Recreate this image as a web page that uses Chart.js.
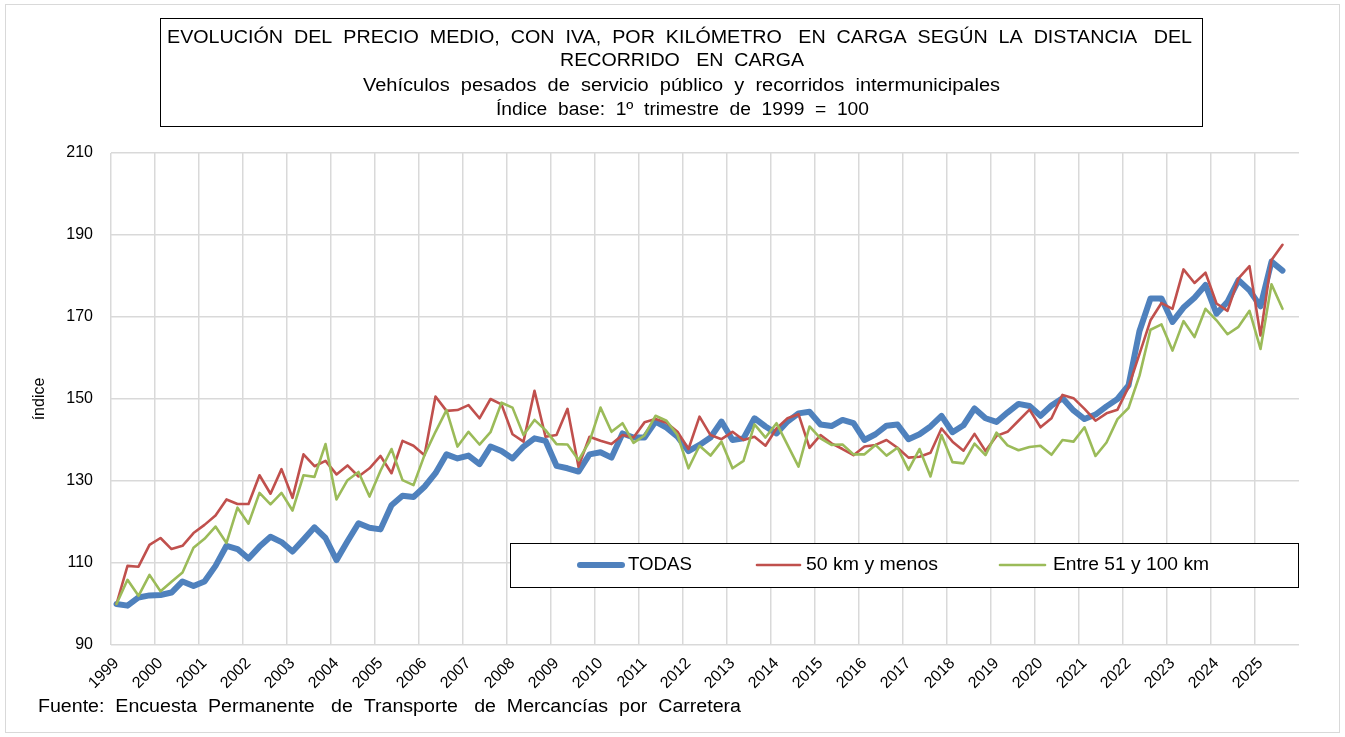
<!DOCTYPE html>
<html>
<head>
<meta charset="utf-8">
<script src="https://cdn.jsdelivr.net/npm/chart.js@4.4.0/dist/chart.umd.min.js"></script>
<style>
  html, body { margin: 0; padding: 0; background: #ffffff; }
  #wrap { width: 1345px; height: 737px; position: relative; }
</style>
</head>
<body>
<div id="wrap"><canvas id="c" width="1345" height="737"></canvas></div>
<script>
// ---- Data (quarterly index, base 1999 T1 = 100) ----
const years = [1999,2000,2001,2002,2003,2004,2005,2006,2007,2008,2009,2010,2011,2012,
               2013,2014,2015,2016,2017,2018,2019,2020,2021,2022,2023,2024,2025];
const quarterNames = ['T1','T2','T3','T4'];
const yTicks = [90,110,130,150,170,190,210];

const todas = [100,99.6,101.6,102.1,102.2,102.8,105.5,104.4,105.5,109.3,114.2,113.4,111.1,114.0,116.4,115.1,
  112.8,115.7,118.7,116.1,110.7,115.3,119.7,118.6,118.2,124.1,126.4,126.1,128.6,131.9,136.5,135.5,
  136.2,134.1,138.4,137.3,135.5,138.4,140.4,139.8,133.7,133.1,132.3,136.5,137.0,135.7,141.6,140.6,
  140.6,144.5,143.0,140.8,137.3,138.8,140.6,144.5,140.0,140.4,145.3,143.3,141.6,144.5,146.5,146.9,
  143.8,143.4,144.9,144.1,140.0,141.4,143.5,143.8,140.2,141.4,143.3,145.9,141.9,143.6,147.7,145.3,
  144.4,146.7,148.8,148.3,145.9,148.4,150.2,147.2,145.1,146.2,148.2,150.0,153.3,166.6,174.5,174.5,
  168.8,172.3,174.7,177.8,170.8,173.7,179.0,176.5,172.6,183.5,181.3];

const menos50 = [100,109.3,109.1,114.4,116.1,113.4,114.2,117.3,119.3,121.6,125.5,124.4,124.4,131.4,126.9,132.9,
  125.9,136.5,133.6,134.9,131.6,133.8,131.1,133.1,136.1,131.9,139.8,138.6,136.3,150.6,147.1,147.3,
  148.5,145.3,150.0,148.7,141.4,139.6,152.0,140.8,141.2,147.6,133.5,140.8,139.8,139.0,141.2,140.6,
  144.3,145.1,144.2,142.0,137.8,145.7,141.2,140.2,142.0,140.0,140.8,138.6,142.8,145.3,146.3,138.1,
  141.2,139.2,137.8,136.3,138.4,138.8,140.0,138.1,135.7,135.9,136.9,142.8,139.6,137.4,141.5,137.3,
  141.0,142.0,144.7,147.4,143.1,145.3,151.0,150.2,147.6,144.7,146.5,147.4,152.9,161.0,169.2,173.4,
  172.0,181.6,178.3,180.8,173.3,171.5,179.4,182.4,165.5,183.9,187.6];

const entre51y100 = [100,105.9,102.0,107.1,103.1,105.4,107.7,113.7,115.9,118.9,114.9,123.5,119.6,127.1,124.3,127.1,
  122.8,131.4,131.0,139.0,125.5,130.2,132.2,126.2,132.5,137.8,130.2,129.0,136.3,142.0,147.3,138.4,
  142.0,138.9,141.9,149.1,147.9,141.2,144.9,142.4,139.0,138.9,135.1,139.6,147.9,142.0,144.1,139.3,
  141.1,145.9,144.7,141.2,133.1,138.6,136.2,139.6,133.1,134.9,143.8,140.6,144.1,138.8,133.5,143.3,
  140.4,138.8,138.9,136.5,136.5,138.8,136.2,138.1,132.7,137.8,131.1,141.2,134.6,134.3,139.1,136.3,
  141.8,138.7,137.5,138.3,138.6,136.4,140.0,139.6,143.1,136.1,139.4,145.1,147.8,155.7,166.9,168.2,
  161.8,169.0,165.1,172.0,169.2,165.8,167.6,171.5,162.2,178.0,172.0];

const seriesNames = ['TODAS', '50 km y menos', 'Entre 51 y 100 km'];
const seriesColors = ['#4f81bd', '#c0504d', '#9bbb59'];

const titleLines = [
  'EVOLUCIÓN  DEL  PRECIO  MEDIO,  CON  IVA,  POR  KILÓMETRO   EN  CARGA  SEGÚN  LA  DISTANCIA   DEL',
  'RECORRIDO   EN  CARGA',
  'Vehículos  pesados  de  servicio  público  y  recorridos  intermunicipales',
  'Índice  base:  1º  trimestre  de  1999  =  100'
];
const sourceText = 'Fuente:  Encuesta  Permanente   de  Transporte   de  Mercancías  por  Carretera';
const yAxisTitle = 'índice';

// categories: one per quarter (1999 T1 ... 2025 T4)
const categories = [];
years.forEach(y => quarterNames.forEach(q => categories.push(y + ' ' + q)));

const FONT = "'Liberation Sans', Arial, sans-serif";
const GRID = '#d9d9d9';

// draw text stretched horizontally to a given width (align: 'center' or 'left')
function fitText(ctx, text, x, y, w, align) {
  const m = ctx.measureText(text).width;
  const sx = w / m;
  ctx.save();
  ctx.textAlign = 'left';
  ctx.textBaseline = 'middle';
  const left = align === 'center' ? x - w / 2 : x;
  ctx.translate(left, y);
  ctx.scale(sx, 1);
  ctx.fillText(text, 0, 0);
  ctx.restore();
}

const decor = {
  id: 'decor',
  beforeDraw(chart) {
    const ctx = chart.ctx;
    ctx.save();
    ctx.fillStyle = '#ffffff';
    ctx.fillRect(0, 0, chart.width, chart.height);
    ctx.restore();
  },
  afterDraw(chart) {
    const ctx = chart.ctx;
    ctx.save();
    // title box
    ctx.strokeStyle = '#000000';
    ctx.lineWidth = 1;
    ctx.strokeRect(160.5, 18.5, 1042, 108);
    ctx.fillStyle = '#000000';
    ctx.font = '18px ' + FONT;
    const tl = [
      {cx: 679.5, cy: 38, w: 1025},
      {cx: 682, cy: 61, w: 244},
      {cx: 681.5, cy: 86, w: 637},
      {cx: 682.5, cy: 110, w: 373}
    ];
    titleLines.forEach((t, i) => fitText(ctx, t, tl[i].cx, tl[i].cy, tl[i].w, 'center'));
    // legend box
    ctx.fillStyle = '#ffffff';
    ctx.fillRect(511, 544, 787, 43);
    ctx.strokeStyle = '#000000';
    ctx.lineWidth = 1;
    ctx.strokeRect(510.5, 543.5, 788, 44);
    const items = [
      {x0: 580, x1: 622, tx: 628, w: 64},
      {x0: 757, x1: 800, tx: 806, w: 132},
      {x0: 1000, x1: 1045, tx: 1053, w: 156}
    ];
    chart.data.datasets.forEach((ds, i) => {
      const it = items[i];
      ctx.strokeStyle = ds.borderColor;
      ctx.lineWidth = ds.borderWidth;
      ctx.lineCap = 'round';
      ctx.beginPath();
      ctx.moveTo(it.x0, 565);
      ctx.lineTo(it.x1, 565);
      ctx.stroke();
      ctx.fillStyle = '#000000';
      ctx.font = '18px ' + FONT;
      fitText(ctx, ds.label, it.tx, 565, it.w, 'left');
    });
    // source
    ctx.fillStyle = '#000000';
    ctx.font = '18px ' + FONT;
    fitText(ctx, sourceText, 38, 707, 703, 'left');
    // outer border
    ctx.strokeStyle = GRID;
    ctx.lineWidth = 1;
    ctx.strokeRect(5.5, 4.5, 1334, 728);
    ctx.restore();
  }
};

const ds = [todas, menos50, entre51y100].map((d, i) => ({
  label: seriesNames[i],
  data: d,
  borderColor: seriesColors[i],
  backgroundColor: seriesColors[i],
  borderWidth: i === 0 ? 6 : 2.6,
  pointRadius: 0,
  tension: 0,
  fill: false,
  borderJoinStyle: 'round',
  borderCapStyle: 'round',
  order: 3 - i
}));

new Chart(document.getElementById('c'), {
  type: 'line',
  data: { labels: categories, datasets: ds },
  options: {
    responsive: false,
    animation: false,
    devicePixelRatio: 1,
    layout: { padding: { left: 26, right: 46, top: 153, bottom: 47 } },
    plugins: { legend: { display: false }, tooltip: { enabled: false }, title: { display: false } },
    scales: {
      x: {
        type: 'category',
        offset: true,
        grid: {
          offset: true,
          drawTicks: false,
          color: (c) => (c.index % 4 === 0 ? GRID : 'rgba(0,0,0,0)'),
          lineWidth: 1.5
        },
        border: { display: false },
        ticks: {
          autoSkip: false,
          maxRotation: 45,
          minRotation: 45,
          padding: 9,
          color: '#000000',
          font: { family: FONT, size: 16 },
          callback: (v, i) => (i % 4 === 0 ? String(years[i / 4]) : '')
        },
        afterFit: (s) => { s.height = 45; }
      },
      y: {
        min: 90,
        max: 210,
        afterBuildTicks: (s) => { s.ticks = yTicks.map(v => ({ value: v })); },
        grid: { color: GRID, lineWidth: 1.5, drawTicks: false },
        border: { display: false },
        ticks: { padding: 18, color: '#000000', font: { family: FONT, size: 16 } },
        title: { display: true, text: yAxisTitle, color: '#000000', font: { family: FONT, size: 16 }, padding: { top: 4, bottom: 0 } },
        afterFit: (s) => { s.width = 85; }
      }
    }
  },
  plugins: [decor]
});
</script>
</body>
</html>
